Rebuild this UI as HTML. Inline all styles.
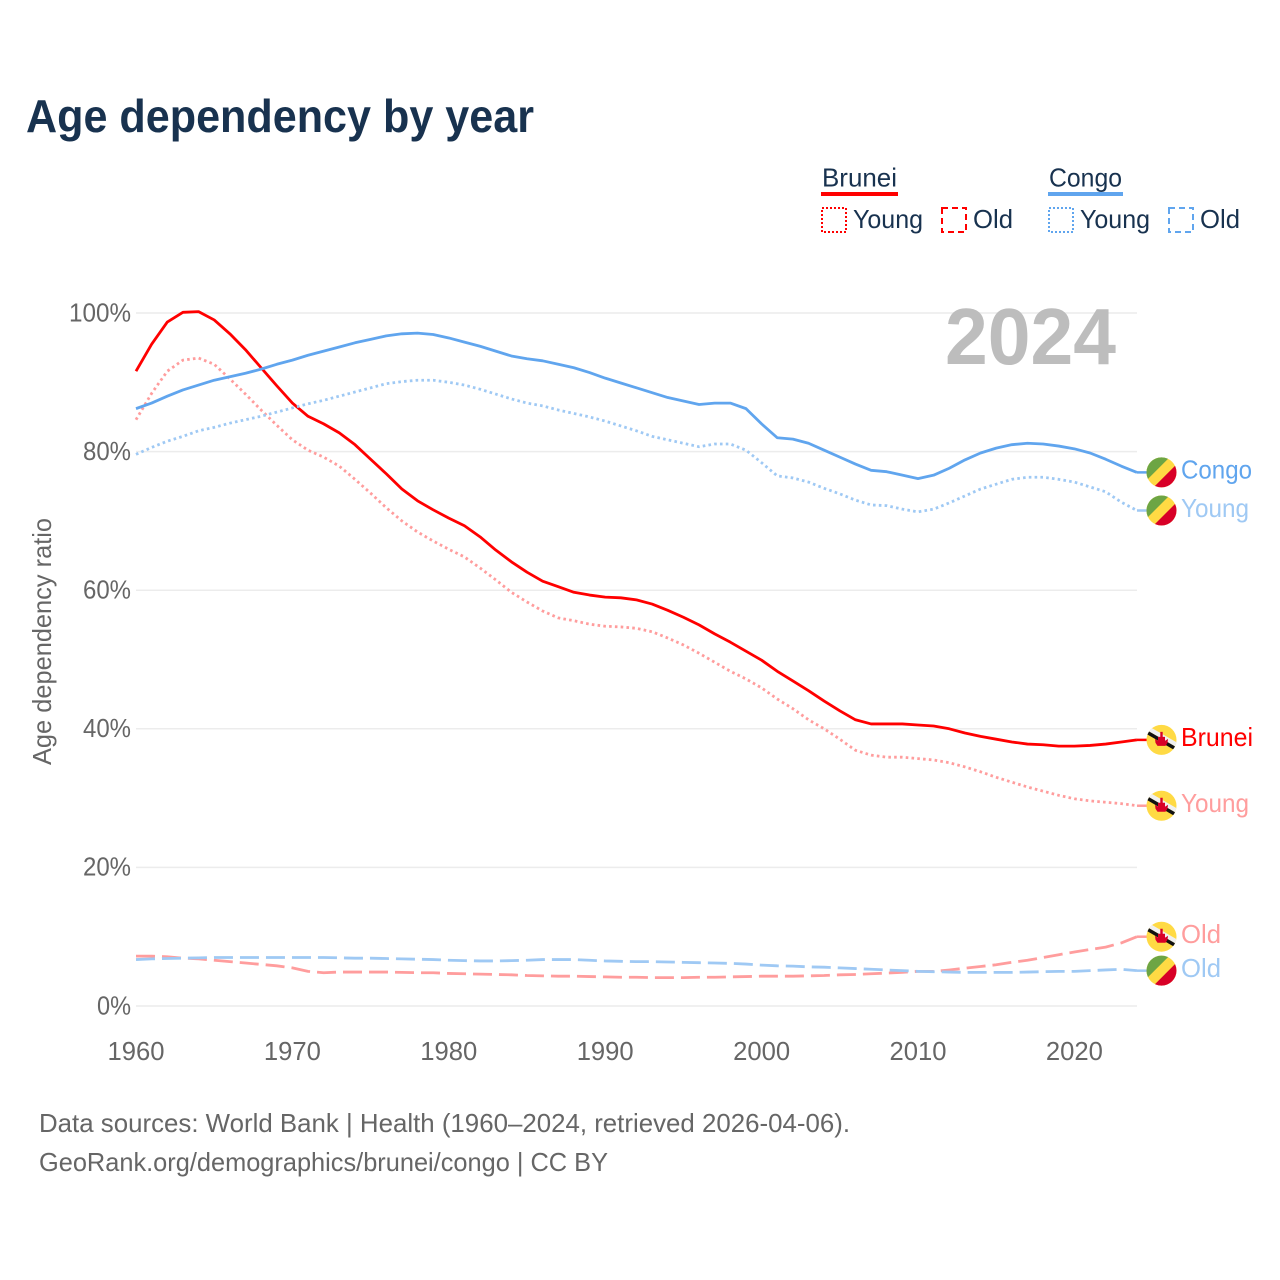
<!DOCTYPE html>
<html lang="en">
<head>
<meta charset="utf-8">
<title>Age dependency by year</title>
<style>
html,body{margin:0;padding:0;background:#fff;}
svg{display:block;}
text{font-family:"Liberation Sans",sans-serif;}
</style>
</head>
<body>
<svg id="chart" width="1280" height="1280" viewBox="0 0 1280 1280" xmlns="http://www.w3.org/2000/svg">
  <defs>
    <clipPath id="flag-clip"><circle cx="0" cy="0" r="15"/></clipPath>
  </defs>
  <rect x="0" y="0" width="1280" height="1280" fill="#fff"/>
  <text x="26" y="132" font-size="46" font-weight="700" fill="#18324f" textLength="508" lengthAdjust="spacingAndGlyphs">Age dependency by year</text>

  <g>
    <text x="822" y="186.5" font-size="26" fill="#18324f" textLength="75" lengthAdjust="spacingAndGlyphs">Brunei</text>
    <rect x="821" y="192" width="77" height="4" fill="#ff0000"/>
    <rect x="822" y="208" width="24" height="24" fill="none" stroke="#ff0000" stroke-width="2" stroke-dasharray="2 2"/>
    <text x="853" y="228" font-size="26" fill="#18324f" textLength="70" lengthAdjust="spacingAndGlyphs">Young</text>
    <rect x="942" y="208" width="24" height="24" fill="none" stroke="#ff0000" stroke-width="2" stroke-dasharray="6 4"/>
    <text x="973" y="228" font-size="26" fill="#18324f" textLength="40" lengthAdjust="spacingAndGlyphs">Old</text>

    <text x="1049" y="186.5" font-size="26" fill="#18324f" textLength="73" lengthAdjust="spacingAndGlyphs">Congo</text>
    <rect x="1048" y="192" width="75" height="4" fill="#60a5ee"/>
    <rect x="1049" y="208" width="24" height="24" fill="none" stroke="#60a5ee" stroke-width="2" stroke-dasharray="2 2"/>
    <text x="1080" y="228" font-size="26" fill="#18324f" textLength="70" lengthAdjust="spacingAndGlyphs">Young</text>
    <rect x="1169" y="208" width="24" height="24" fill="none" stroke="#60a5ee" stroke-width="2" stroke-dasharray="6 4"/>
    <text x="1200" y="228" font-size="26" fill="#18324f" textLength="40" lengthAdjust="spacingAndGlyphs">Old</text>
  </g>

  <g id="grid"></g>
  <g id="yticks"></g>
  <g id="xticks"></g>
  <text transform="translate(51,641.5) rotate(-90)" text-anchor="middle" font-size="26" fill="#666" textLength="247" lengthAdjust="spacingAndGlyphs">Age dependency ratio</text>
  <text x="945" y="364" font-size="80" font-weight="700" fill="#bdbdbd" textLength="171" lengthAdjust="spacingAndGlyphs">2024</text>
  <g id="series"></g>
  <g id="endlabels"></g>

  <text x="39" y="1132" font-size="26" fill="#666" textLength="811" lengthAdjust="spacingAndGlyphs">Data sources: World Bank | Health (1960–2024, retrieved 2026-04-06).</text>
  <text x="39" y="1171" font-size="26" fill="#666" textLength="569" lengthAdjust="spacingAndGlyphs">GeoRank.org/demographics/brunei/congo | CC BY</text>
</svg>
<script>
const startYear = 1960;
const xTickYears = [1960, 1970, 1980, 1990, 2000, 2010, 2020];
const xTickLabels = ['1960', '1970', '1980', '1990', '2000', '2010', '2020'];
const yTickValues = [0, 20, 40, 60, 80, 100];
const yTickLabels = ['0%', '20%', '40%', '60%', '80%', '100%'];

const bruneiTotal = [91.6,95.5,98.7,100.1,100.2,99,97,94.7,92.1,89.5,87,85.1,84,82.7,81,78.9,76.8,74.6,72.9,71.6,70.4,69.3,67.7,65.8,64.1,62.6,61.3,60.5,59.7,59.3,59,58.9,58.6,58,57.1,56.1,55,53.7,52.5,51.2,49.9,48.3,46.9,45.5,44,42.6,41.3,40.7,40.7,40.7,40.55,40.4,40,39.4,38.9,38.5,38.1,37.8,37.7,37.5,37.5,37.6,37.8,38.1,38.4];
const bruneiYoung = [84.6,88.4,91.6,93.2,93.5,92.6,90.5,88.3,86,83.8,81.7,80.2,79.2,77.9,76,74,71.9,70,68.4,67.1,65.9,64.8,63.2,61.5,59.7,58.3,57,56,55.6,55.1,54.8,54.7,54.5,54,53.1,52.1,50.9,49.6,48.3,47.2,45.9,44.3,42.9,41.3,40,38.5,36.9,36.2,35.9,35.9,35.7,35.5,35.1,34.5,33.8,33,32.3,31.6,31,30.4,29.9,29.6,29.4,29.2,28.9];
const bruneiOld = [7.2,7.2,7.1,6.9,6.8,6.6,6.4,6.2,6,5.8,5.5,5,4.8,4.9,4.9,4.9,4.9,4.85,4.8,4.8,4.7,4.65,4.6,4.55,4.5,4.4,4.35,4.3,4.3,4.25,4.2,4.15,4.15,4.1,4.1,4.1,4.15,4.15,4.2,4.25,4.3,4.3,4.3,4.35,4.4,4.5,4.55,4.65,4.75,4.85,5,5,5.2,5.45,5.7,5.95,6.3,6.6,7,7.4,7.8,8.15,8.5,9.1,10];
const congoTotal = [86.2,87,88,88.9,89.6,90.3,90.8,91.3,91.9,92.6,93.2,93.9,94.5,95.1,95.7,96.2,96.7,97,97.1,96.9,96.4,95.8,95.2,94.5,93.8,93.4,93.1,92.6,92.1,91.4,90.6,89.9,89.2,88.5,87.8,87.3,86.8,87,87,86.2,84,82,81.8,81.2,80.2,79.2,78.2,77.3,77.1,76.6,76.1,76.6,77.6,78.8,79.8,80.5,81,81.2,81.1,80.8,80.4,79.8,78.9,77.9,77];
const congoYoung = [79.6,80.6,81.5,82.2,83,83.5,84.1,84.6,85.1,85.7,86.3,86.9,87.4,88,88.6,89.2,89.8,90.1,90.3,90.3,90,89.6,89,88.3,87.6,87,86.6,86,85.5,85,84.4,83.7,83,82.2,81.7,81.2,80.7,81.1,81.1,80.2,78.4,76.5,76.2,75.6,74.7,73.9,73,72.3,72.2,71.7,71.3,71.7,72.6,73.6,74.6,75.3,76,76.3,76.3,76,75.6,74.9,74.2,72.7,71.5];
const congoOld = [6.7,6.8,6.85,6.9,6.95,7,7,7,7,7,7,7,7,6.95,6.9,6.9,6.85,6.8,6.75,6.7,6.6,6.55,6.5,6.5,6.55,6.6,6.7,6.7,6.7,6.6,6.5,6.45,6.4,6.4,6.35,6.3,6.25,6.2,6.15,6.05,5.9,5.8,5.75,5.65,5.6,5.5,5.4,5.3,5.2,5.1,5,4.95,4.9,4.85,4.85,4.85,4.85,4.9,4.95,5,5,5.1,5.2,5.3,5.1];

const seriesNames = ['brunei-total', 'brunei-young', 'brunei-old', 'congo-total', 'congo-young', 'congo-old'];
const seriesValues = [bruneiTotal, bruneiYoung, bruneiOld, congoTotal, congoYoung, congoOld];
const seriesLabels = ['Brunei', 'Young', 'Old', 'Congo', 'Young', 'Old'];
const seriesFlags = ['brunei', 'brunei', 'brunei', 'congo', 'congo', 'congo'];

const NS = 'http://www.w3.org/2000/svg';
const SWIDTH = {'Brunei': 72, 'Congo': 71, 'Young': 68, 'Old': 40};
const STYLE = [
  {color: '#ff0000', dash: ''},
  {color: '#ff9d9d', dash: '2.6 3.2'},
  {color: '#ff9d9d', dash: '19 7'},
  {color: '#60a5ee', dash: ''},
  {color: '#9fc9f4', dash: '2.6 3.2'},
  {color: '#9fc9f4', dash: '19 7'}
];

function xScale(year) { return 136 + (year - 1960) * 15.64; }
function yScale(value) { return 1006 - value * 6.93; }
function make(tag, attrs, parent) {
  const el = document.createElementNS(NS, tag);
  for (const k in attrs) el.setAttribute(k, attrs[k]);
  parent.appendChild(el);
  return el;
}

const grid = document.getElementById('grid');
const yticks = document.getElementById('yticks');
const xticks = document.getElementById('xticks');
const seriesG = document.getElementById('series');
const endG = document.getElementById('endlabels');

yTickValues.forEach(function (v, i) {
  const line = make('line', {x1: 136, x2: 1137, y1: yScale(v), y2: yScale(v), stroke: '#ececec', 'stroke-width': 1.5}, grid);
  
  
  const label = yTickLabels[i];
  const t = make('text', {x: 131, y: yScale(v) + 8.3, 'text-anchor': 'end', 'font-size': 26, fill: '#666', textLength: label.length * 14 + 6, lengthAdjust: 'spacingAndGlyphs'}, yticks);
  t.textContent = label;
  
  
});

xTickYears.forEach(function (yr, i) {
  const t = make('text', {x: xScale(yr), y: 1060, 'text-anchor': 'middle', 'font-size': 26, fill: '#666', textLength: 57, lengthAdjust: 'spacingAndGlyphs'}, xticks);
  t.textContent = xTickLabels[i];
  
  
});

function drawFlag(kind, cx, cy, parent) {
  const g = make('g', {transform: 'translate(' + cx + ',' + cy + ')', 'clip-path': 'url(#flag-clip)'}, parent);
  
  
  make('rect', {x: -16, y: -16, width: 32, height: 32, fill: '#ffda44'}, g);
  if (kind === 'congo') {
    make('polygon', {points: '-16,-16 9,-16 -16,9', fill: '#6da544'}, g);
    make('polygon', {points: '16,16 -9,16 16,-9', fill: '#d80027'}, g);
  } else {
    make('polygon', {points: '-16,-15.5 16,3 16,8 -16,-10.5', fill: '#f0f0f0'}, g);
    make('polygon', {points: '-16,-10.5 16,8 16,12 -16,-6.5', fill: '#111'}, g);
    make('polygon', {points: '-1.2,-8 1.2,-8 1.2,-3 3.5,-3 3.5,1 6.5,-1 6,3 4,6 -4,6 -6,3 -6.5,-1 -3.5,1 -3.5,-3 -1.2,-3', fill: '#d80027'}, g);
  }
  return g;
}

seriesValues.forEach(function (vals, s) {
  const st = STYLE[s];
  let d = '';
  vals.forEach(function (v, i) {
    d += (i ? 'L' : 'M') + xScale(startYear + i).toFixed(2) + ' ' + yScale(v).toFixed(2);
  });
  const last = vals[vals.length - 1];
  const endYear = startYear + vals.length - 1;
  const attrs = {d: d, fill: 'none', stroke: st.color, 'stroke-width': 2.8, 'stroke-linejoin': 'round'};
  if (st.dash) attrs['stroke-dasharray'] = st.dash;
  const path = make('path', attrs, seriesG);
  
  

  const conn = make('line', {x1: xScale(endYear), x2: xScale(endYear) + 10, y1: yScale(last), y2: yScale(last), stroke: st.color, 'stroke-width': 2.5}, endG);
  
  
  drawFlag(seriesFlags[s], 1161.5, yScale(last), endG);

  const lab = seriesLabels[s];
  const labelY = yScale(last) + 6.3;
  const t = make('text', {x: 1181, y: labelY, 'font-size': 26, fill: st.color, textLength: SWIDTH[lab], lengthAdjust: 'spacingAndGlyphs'}, endG);
  t.textContent = lab;
  
  
});
</script>
</body>
</html>
